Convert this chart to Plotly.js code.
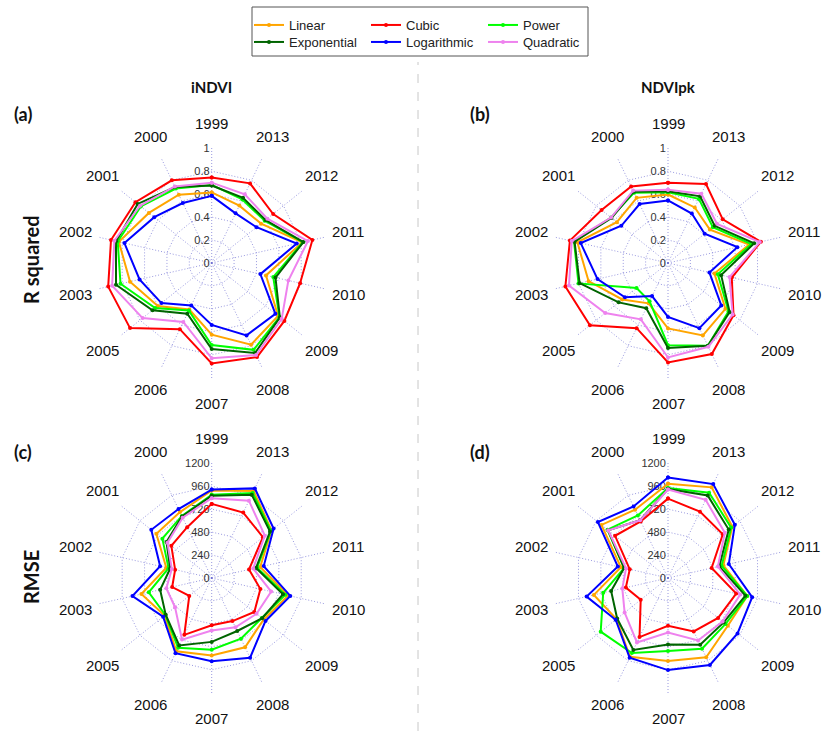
<!DOCTYPE html>
<html>
<head>
<meta charset="utf-8">
<script src="https://cdn.plot.ly/plotly-3.0.1.min.js"></script>
<style>
  html, body { margin: 0; padding: 0; background: #fff; }
  #chart { width: 824px; height: 731px; }
</style>
</head>
<body>
<div id="chart"></div>
<script>
// Years around each radar (1999 at the top, the rest running clockwise from 2013 down to 2000)
const years = ['1999','2013','2012','2011','2010','2009','2008','2007','2006','2005','2003','2002','2001','2000'];

// Regression models
const models = ['Linear', 'Cubic', 'Power', 'Exponential', 'Logarithmic', 'Quadratic'];
const modelColors = ['#FFA500', '#FF0000', '#00FF00', '#006400', '#0000FF', '#EE82EE'];

// Values follow the order of `years`
// (a) R squared, iNDVI
const r2IndviLinear      = [0.615, 0.555, 0.55, 0.81, 0.485, 0.74, 0.79, 0.625, 0.45, 0.60, 0.73, 0.83, 0.70, 0.66];
const r2IndviCubic       = [0.745, 0.77, 0.685, 0.90, 0.79, 0.81, 0.91, 0.875, 0.64, 0.91, 0.925, 0.90, 0.85, 0.80];
const r2IndviPower       = [0.68, 0.615, 0.59, 0.815, 0.55, 0.755, 0.84, 0.715, 0.46, 0.63, 0.815, 0.84, 0.79, 0.72];
const r2IndviExponential = [0.675, 0.63, 0.60, 0.82, 0.57, 0.76, 0.87, 0.75, 0.49, 0.66, 0.855, 0.855, 0.825, 0.735];
const r2IndviLogarithmic = [0.585, 0.48, 0.50, 0.76, 0.435, 0.71, 0.70, 0.54, 0.41, 0.56, 0.645, 0.78, 0.64, 0.58];
const r2IndviQuadratic   = [0.70, 0.665, 0.62, 0.86, 0.685, 0.78, 0.89, 0.83, 0.57, 0.77, 0.89, 0.87, 0.80, 0.74];

// (b) R squared, NDVIpk
const r2PkLinear      = [0.597, 0.537, 0.467, 0.725, 0.415, 0.64, 0.70, 0.57, 0.39, 0.51, 0.71, 0.81, 0.57, 0.63];
const r2PkCubic       = [0.70, 0.763, 0.61, 0.83, 0.57, 0.73, 0.88, 0.867, 0.63, 0.87, 0.917, 0.877, 0.74, 0.74];
const r2PkPower       = [0.617, 0.62, 0.50, 0.745, 0.445, 0.675, 0.80, 0.716, 0.37, 0.35, 0.80, 0.84, 0.635, 0.68];
const r2PkExponential = [0.626, 0.645, 0.52, 0.77, 0.475, 0.687, 0.80, 0.74, 0.437, 0.55, 0.79, 0.835, 0.63, 0.69];
const r2PkLogarithmic = [0.545, 0.478, 0.408, 0.62, 0.37, 0.594, 0.63, 0.47, 0.32, 0.48, 0.63, 0.78, 0.52, 0.57];
const r2PkQuadratic   = [0.638, 0.67, 0.547, 0.82, 0.55, 0.72, 0.81, 0.823, 0.545, 0.70, 0.885, 0.86, 0.635, 0.70];

// (c) RMSE, iNDVI
const rmseIndviLinear      = [915, 1010, 800, 520, 820, 695, 804, 810, 850, 630, 754, 487, 740, 765];
const rmseIndviCubic       = [775, 760, 685, 400, 522, 570, 500, 495, 660, 300, 424, 392, 540, 590];
const rmseIndviPower       = [870, 987, 792, 487, 790, 670, 705, 750, 810, 620, 675, 463, 660, 720];
const rmseIndviExponential = [860, 965, 780, 475, 765, 675, 615, 668, 783, 615, 553, 445, 605, 715];
const rmseIndviLogarithmic = [925, 1040, 828, 558, 843, 720, 925, 870, 873, 650, 850, 553, 808, 800];
const rmseIndviQuadratic   = [835, 897, 710, 445, 638, 600, 572, 550, 715, 490, 486, 428, 592, 700];

// (d) RMSE, NDVIpk
const rmsePkLinear      = [985, 1052, 860, 594, 850, 800, 920, 867, 915, 690, 795, 505, 890, 793];
const rmsePkCubic       = [830, 770, 733, 468, 732, 670, 620, 500, 686, 365, 452, 410, 708, 657];
const rmsePkPower       = [940, 990, 845, 575, 850, 770, 820, 763, 870, 900, 695, 470, 810, 726];
const rmsePkExponential = [930, 957, 812, 550, 830, 745, 775, 696, 835, 680, 610, 470, 800, 672];
const rmsePkLogarithmic = [1050, 1090, 894, 652, 903, 930, 1010, 963, 925, 700, 873, 538, 938, 830];
const rmsePkQuadratic   = [925, 907, 760, 535, 775, 730, 725, 570, 748, 580, 490, 450, 800, 670];

// Radial tick values
const r2Ticks   = [0, 0.2, 0.4, 0.6, 0.8, 1];
const rmseTicks = [0, 240, 480, 720, 960, 1200];

const W = 824, H = 731, R = 115, LABEL_R = 140;

const panels = [
  { id: 'polar',  cx: 211.7, cy: 263, ticks: r2Ticks,
    series: [r2IndviLinear, r2IndviCubic, r2IndviPower, r2IndviExponential, r2IndviLogarithmic, r2IndviQuadratic] },
  { id: 'polar2', cx: 668,   cy: 263, ticks: r2Ticks,
    series: [r2PkLinear, r2PkCubic, r2PkPower, r2PkExponential, r2PkLogarithmic, r2PkQuadratic] },
  { id: 'polar3', cx: 211.7, cy: 578, ticks: rmseTicks,
    series: [rmseIndviLinear, rmseIndviCubic, rmseIndviPower, rmseIndviExponential, rmseIndviLogarithmic, rmseIndviQuadratic] },
  { id: 'polar4', cx: 668,   cy: 578, ticks: rmseTicks,
    series: [rmsePkLinear, rmsePkCubic, rmsePkPower, rmsePkExponential, rmsePkLogarithmic, rmsePkQuadratic] }
];

const closeLoop = a => a.concat([a[0]]);
const gridColor = 'rgba(110,110,210,0.7)';
const gridDash = '1px,2px';

const traces = [];
const layout = {
  width: W, height: H,
  margin: { l: 0, r: 0, t: 0, b: 0 },
  paper_bgcolor: '#fff',
  font: { family: 'Liberation Sans, Arial, sans-serif', color: '#111' },
  showlegend: true,
  annotations: [],
  shapes: []
};

panels.forEach((p, pi) => {
  p.series.forEach((vals, mi) => {
    // first legend row: Linear, Cubic, Power; second row: the other three
    traces.push({
      type: 'scatterpolar',
      subplot: p.id,
      name: models[mi],
      theta: closeLoop(years),
      r: closeLoop(vals),
      mode: 'lines+markers',
      line: { color: modelColors[mi], width: 2 },
      marker: { color: modelColors[mi], size: 4 },
      showlegend: pi === 0,
      legend: mi < 3 ? 'legend' : 'legend2',
      hoverinfo: 'skip'
    });
  });
  const rmax = p.ticks[p.ticks.length - 1];
  layout[p.id] = {
    domain: {
      x: [(p.cx - R) / W, (p.cx + R) / W],
      y: [1 - (p.cy + R) / H, 1 - (p.cy - R) / H]
    },
    bgcolor: 'rgba(0,0,0,0)',
    gridshape: 'linear',
    radialaxis: {
      range: [0, rmax * 1.002],
      tickmode: 'array',
      tickvals: p.ticks,
      ticktext: p.ticks.map(String),
      angle: 90,
      tickangle: 90,
      side: 'counterclockwise',
      showline: false,
      ticks: '',
      gridcolor: gridColor,
      griddash: gridDash,
      gridwidth: 1,
      tickfont: { family: 'Liberation Sans, Arial, sans-serif', size: 11, color: '#333' },
      layer: 'below traces'
    },
    angularaxis: {
      type: 'category',
      categoryorder: 'array',
      categoryarray: years,
      rotation: 90,
      direction: 'clockwise',
      showline: false,
      showticklabels: false,
      ticks: '',
      gridcolor: gridColor,
      griddash: gridDash,
      gridwidth: 1,
      layer: 'below traces'
    }
  };
  // year labels centred on a ring just outside each radar
  years.forEach((yr, k) => {
    const phi = 2 * Math.PI * k / years.length;
    layout.annotations.push({
      text: yr, xref: 'paper', yref: 'paper',
      x: (p.cx + LABEL_R * Math.sin(phi)) / W,
      y: 1 - (p.cy - LABEL_R * Math.cos(phi)) / H,
      xanchor: 'center', yanchor: 'middle', showarrow: false,
      font: { family: 'Liberation Sans, Arial, sans-serif', size: 15, color: '#111' }
    });
  });
});

// Legend: two rows of three entries inside one frame
const legendCommon = {
  orientation: 'h',
  xanchor: 'left',
  yanchor: 'middle',
  x: 249 / W,
  entrywidth: 72,
  entrywidthmode: 'pixels',
  bgcolor: 'rgba(0,0,0,0)',
  borderwidth: 0,
  itemclick: false,
  font: { family: 'Liberation Sans, Arial, sans-serif', size: 13, color: '#222' },
  tracegroupgap: 0
};
layout.legend  = Object.assign({}, legendCommon, { y: 1 - 25 / H });
layout.legend2 = Object.assign({}, legendCommon, { y: 1 - 42 / H });

layout.shapes.push({
  type: 'rect', xref: 'paper', yref: 'paper',
  x0: 252 / W, x1: 588 / W, y0: 1 - 56 / H, y1: 1 - 7 / H,
  line: { color: '#555', width: 1 }, fillcolor: 'rgba(0,0,0,0)'
});
layout.shapes.push({
  type: 'line', xref: 'paper', yref: 'paper',
  x0: 418 / W, x1: 418 / W, y0: 0, y1: 1 - 62 / H,
  line: { color: '#c8c8c8', width: 1, dash: 'dash' }
});

const boldFont = { family: 'Lato, Open Sans, sans-serif', color: '#111' };
function addText(text, px, py, size, angle) {
  layout.annotations.push({
    text: '<b>' + text + '</b>', xref: 'paper', yref: 'paper',
    x: px / W, y: 1 - py / H, xanchor: 'center', yanchor: 'middle',
    showarrow: false, textangle: angle || 0,
    font: Object.assign({ size: size }, boldFont)
  });
}
addText('iNDVI', 211, 87, 15);
addText('NDVIpk', 668, 87, 15);
addText('(a)', 23, 114, 18);
addText('(b)', 480, 114, 18);
addText('(c)', 23, 452, 18);
addText('(d)', 480, 452, 18);
addText('R squared', 31, 259, 20, -90);
addText('RMSE', 31, 577, 20, -90);

Plotly.newPlot('chart', traces, layout, { displayModeBar: false, staticPlot: true });
</script>
</body>
</html>
